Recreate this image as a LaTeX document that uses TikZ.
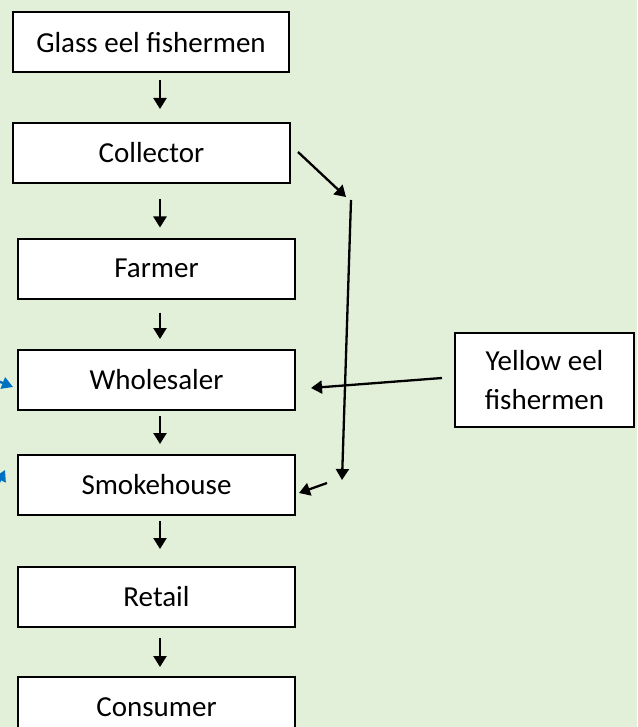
\documentclass[tikz,border=0pt]{standalone}
\usepackage{fontspec}
\setmainfont{Carlito}
\usetikzlibrary{arrows.meta}
\definecolor{bgg}{HTML}{E2EFD9}
\definecolor{arrblue}{HTML}{0070C0}
\begin{document}
\begin{tikzpicture}[x=1pt,y=-1pt,
  box/.style={draw=black,line width=2pt,fill=white,minimum height=60pt,inner sep=0pt,
    font=\fontsize{29}{39}\selectfont,align=center},
  arr/.style={line width=2.3pt,-{Triangle[length=11pt,width=13pt]}},
  barr/.style={line width=2.3pt,draw=arrblue,-{Triangle[length=11pt,width=12pt,fill=arrblue]}}]
\useasboundingbox (0,0) rectangle (637,727);
\clip (0,0) rectangle (637,727);
\fill[bgg] (0,0) rectangle (637,727);
\node[box,minimum width=276pt] (glass) at (151,42.5) {Glass eel fishermen};
\node[box,minimum width=277pt] (coll) at (151.5,153) {Collector};
\node[box,minimum width=277pt] (farm) at (156.5,268.5) {Farmer};
\node[box,minimum width=277pt] (whole) at (156.5,380) {Wholesaler};
\node[box,minimum width=277pt] (smoke) at (156.5,485) {Smokehouse};
\node[box,minimum width=277pt] (retail) at (156.5,597) {Retail};
\node[box,minimum width=277pt] (cons) at (156.5,707) {Consumer};
\node[box,minimum width=179pt,minimum height=94pt] (yellow) at (544.5,380) {Yellow eel\\fishermen};
\coordinate (ax) at (160,0);
\draw[arr,shorten <=7pt,shorten >=13pt] (glass.south -| ax) -- (coll.north -| ax);
\draw[arr,shorten <=15pt,shorten >=10pt] (coll.south -| ax) -- (farm.north -| ax);
\draw[arr,shorten <=13pt,shorten >=10pt] (farm.south -| ax) -- (whole.north -| ax);
\draw[arr,shorten <=5pt,shorten >=10pt] (whole.south -| ax) -- (smoke.north -| ax);
\draw[arr,shorten <=5pt,shorten >=17pt] (smoke.south -| ax) -- (retail.north -| ax);
\draw[arr,shorten <=10pt,shorten >=9pt] (retail.south -| ax) -- (cons.north -| ax);
\coordinate (d1) at (298,152);
\coordinate (d2) at (346,197);
\coordinate (v1) at (351,200);
\coordinate (v2) at (342,480);
\coordinate (y1) at (442,378);
\coordinate (w1) at (311,388);
\coordinate (s1) at (327,483);
\coordinate (s2) at (299,493);
\draw[arr] (d1) -- (d2);
\draw[arr] (v1) -- (v2);
\draw[arr] (y1) -- (w1);
\draw[arr] (s1) -- (s2);
\coordinate (b1) at (-25,372);
\coordinate (b2) at (13,387);
\coordinate (b3) at (-12,505);
\coordinate (b4) at (5,470);
\draw[barr] (b1) -- (b2);
\draw[barr] (b3) -- (b4);
\end{tikzpicture}
\end{document}
